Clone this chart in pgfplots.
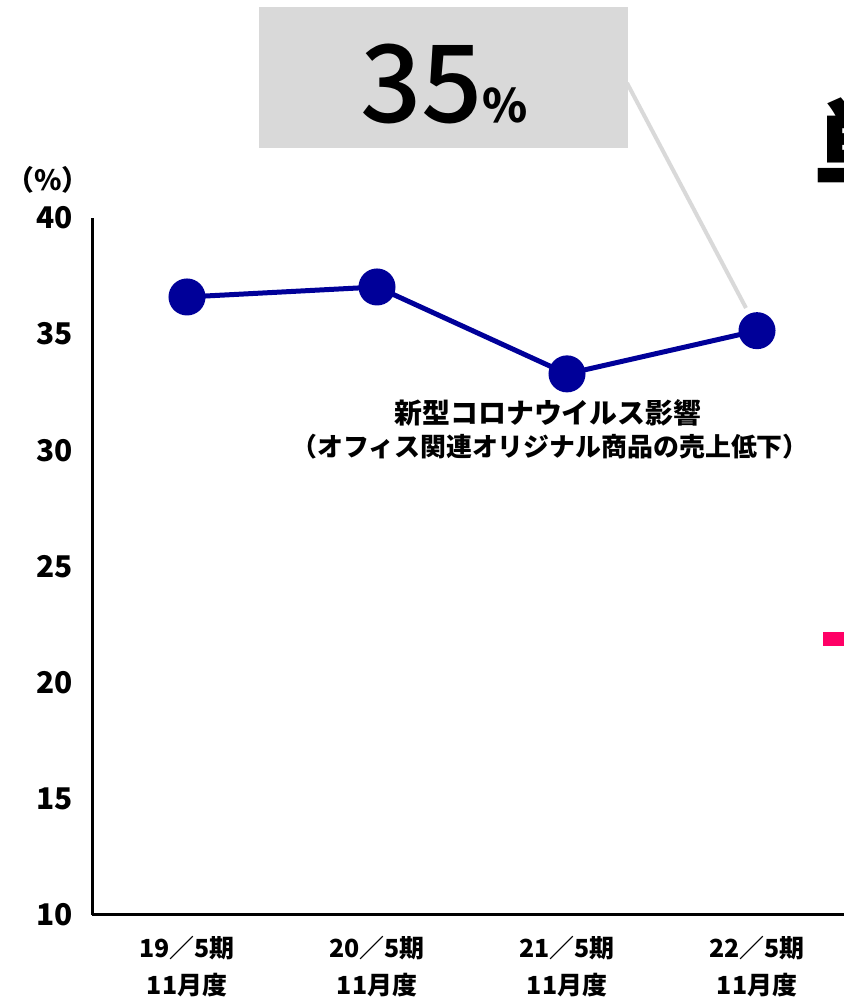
\documentclass[border=0pt]{standalone}
\usepackage{fontspec}
\setmainfont{Noto Sans CJK JP}
\newfontfamily\jpmed{Noto Sans CJK JP}[UprightFont={* Medium}]
\usepackage{pgfplots}
\pgfplotsset{compat=1.18}
\definecolor{navyline}{RGB}{0,0,153}
\definecolor{boxgray}{RGB}{217,217,217}
\definecolor{pinkred}{RGB}{255,0,102}
\begin{document}
\begin{tikzpicture}[x=0.5bp,y=0.5bp]
\useasboundingbox (0,0) rectangle (844,997);
\clip (0,0) rectangle (844,997);
% gray callout box
\fill[boxgray] (259,{997-7}) rectangle (628,{997-148});
\draw[boxgray, line width=2bp] (627,{997-83}) -- (746,{997-308});
\node[anchor=base, inner sep=0pt] at (444,{997-123}) {\jpmed\fontsize{54}{54}\selectfont 35{\bfseries\fontsize{23}{23}\selectfont\%}};
% clipped big character on the right
\node[anchor=base west, inner sep=0pt] at (813,{997-190}) {\fontsize{54}{54}\selectfont\bfseries 単};
\fill[pinkred] (823,{997-632}) rectangle (850,{997-646});
\begin{axis}[
  at={(46bp,41bp)}, anchor=south west,
  scale only axis, width=380bp, height=348.5bp,
  xmin=-0.5, xmax=3.5, ymin=10, ymax=40,
  axis x line*=bottom, axis y line*=left,
  axis line style={-, line width=1.5bp, black},
  xtick={0,1,2,3},
  xticklabels={{19／5期\\11月度},{20／5期\\11月度},{21／5期\\11月度},{22／5期\\11月度}},
  ytick={10,15,...,40},
  major tick length=0pt,
  /pgf/number format/assume math mode=true,
  tick label style={font=\fontsize{12.5}{18.5}\selectfont\bfseries},
  yticklabel style={font=\fontsize{15}{15}\selectfont\bfseries, xshift=-6bp},
  xticklabel style={align=center, yshift=-7bp},
  clip=false,
]
\addplot[navyline, line width=2.5bp, mark=*, mark size=8bp, mark options={fill=navyline, draw=navyline}]
  coordinates {(0,36.6) (1,37.03) (2,33.29) (3,35.15)};
\end{axis}
\node[inner sep=0pt] at (548,{997-413}) {\fontsize{14}{14}\selectfont\bfseries 新型コロナウイルス影響};
\node[inner sep=0pt] at (550,{997-447}) {\fontsize{13}{13}\selectfont\bfseries （オフィス関連オリジナル商品の売上低下）};
\node[inner sep=0pt] at (48,{997-180}) {\fontsize{14}{14}\selectfont\bfseries （\%）};
\end{tikzpicture}
\end{document}
